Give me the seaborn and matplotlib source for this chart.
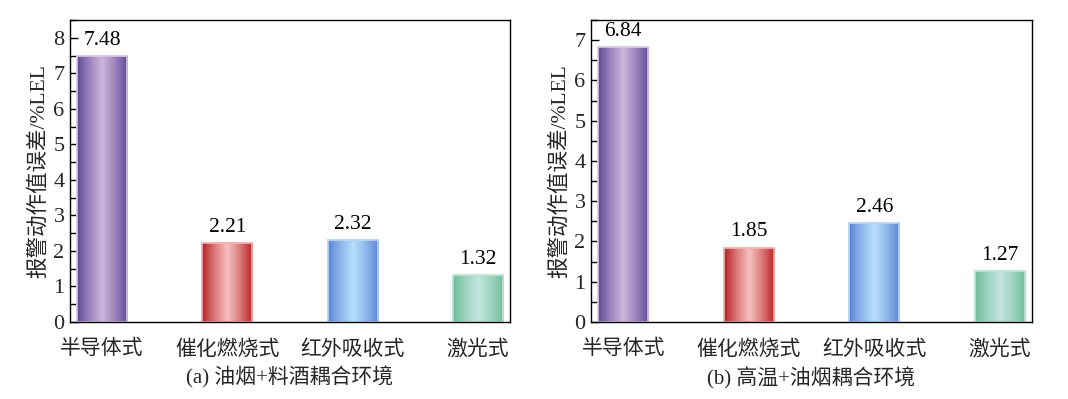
import numpy as np
import pandas as pd
import matplotlib
matplotlib.use("Agg")
import matplotlib.pyplot as plt
from matplotlib.colors import LinearSegmentedColormap, to_rgb
from matplotlib.ticker import MultipleLocator
import seaborn as sns

categories = ["半导体式", "催化燃烧式", "红外吸收式", "激光式"]
values_a = [7.48, 2.21, 2.32, 1.32]
values_b = [6.84, 1.85, 2.46, 1.27]
titles = ["(a) 油烟+料酒耦合环境", "(b) 高温+油烟耦合环境"]
ylabel = "报警动作值误差/%LEL"
ylims = [8.5, 7.5]

edge_colors = ["#5a4392", "#b3171a", "#5480d3", "#6abb96"]
center_colors = ["#ccb4db", "#f7c0bf", "#b8defb", "#c2e5de"]
outline_colors = ["#d9cce8", "#f3b5b5", "#bcd6f5", "#c3e6d6"]

sns.set_theme(style="white")
plt.rcParams["font.family"] = ["Liberation Serif", "Noto Sans CJK SC"]
plt.rcParams["axes.unicode_minus"] = False

fig = plt.figure(figsize=(10.68, 3.99), dpi=100)
ax_a = fig.add_axes([70 / 1068, 77 / 399, 440 / 1068, 302 / 399])
ax_b = fig.add_axes([591 / 1068, 77 / 399, 441 / 1068, 302 / 399])


def shade_bars(ax, ylim):
    t = np.linspace(0, 1, 200)
    w = np.clip(1 - np.abs(2 * t - 1), 0, 1) ** 0.8
    for patch, ec, cc, oc in zip(ax.patches, edge_colors, center_colors, outline_colors):
        x0, y0 = patch.get_x(), patch.get_y()
        wd, ht = patch.get_width(), patch.get_height()
        cmap = LinearSegmentedColormap.from_list("g", [to_rgb(ec), to_rgb(cc)])
        img = cmap(w)[np.newaxis, :, :]
        im = ax.imshow(img, extent=(x0, x0 + wd, y0, y0 + ht), aspect="auto",
                       interpolation="bilinear", zorder=patch.get_zorder() + 0.1)
        im.set_clip_path(patch)
        patch.set_edgecolor(oc)
        patch.set_linewidth(1.2)
        ax.add_patch(plt.Rectangle((x0, y0), wd, ht, fill=False, edgecolor=oc,
                                   linewidth=1.2, zorder=patch.get_zorder() + 0.2))
        ax.text(x0 + wd / 2, y0 + ht + ylim * 0.02, f"{ht:.2f}", ha="center",
                va="bottom", fontsize=15.5, color="black")


for ax, vals, title, ylim in zip([ax_a, ax_b], [values_a, values_b], titles, ylims):
    df = pd.DataFrame({"cat": categories, "val": vals})
    sns.barplot(data=df, x="cat", y="val", hue="cat", palette=edge_colors,
                legend=False, width=0.4, ax=ax, saturation=1)
    shade_bars(ax, ylim)
    ax.set_xlim(-0.256, 3.256)
    ax.set_ylim(0, ylim)
    ax.yaxis.set_major_locator(MultipleLocator(1))
    ax.yaxis.set_minor_locator(MultipleLocator(0.5))
    ax.tick_params(axis="y", which="major", direction="in", length=6, width=1,
                   color="black", labelsize=16, left=True, pad=4)
    ax.tick_params(axis="y", which="minor", direction="in", length=4, width=1,
                   color="black", left=True)
    ax.tick_params(axis="x", which="both", bottom=False, labelsize=15, pad=7)
    for s in ax.spines.values():
        s.set_visible(True)
        s.set_color("black")
        s.set_linewidth(1.0)
    ax.set_xlabel(title, fontsize=15, labelpad=5)
    ax.set_ylabel(ylabel, fontsize=15.5, labelpad=3)

fig.savefig("out.png", dpi=100)
